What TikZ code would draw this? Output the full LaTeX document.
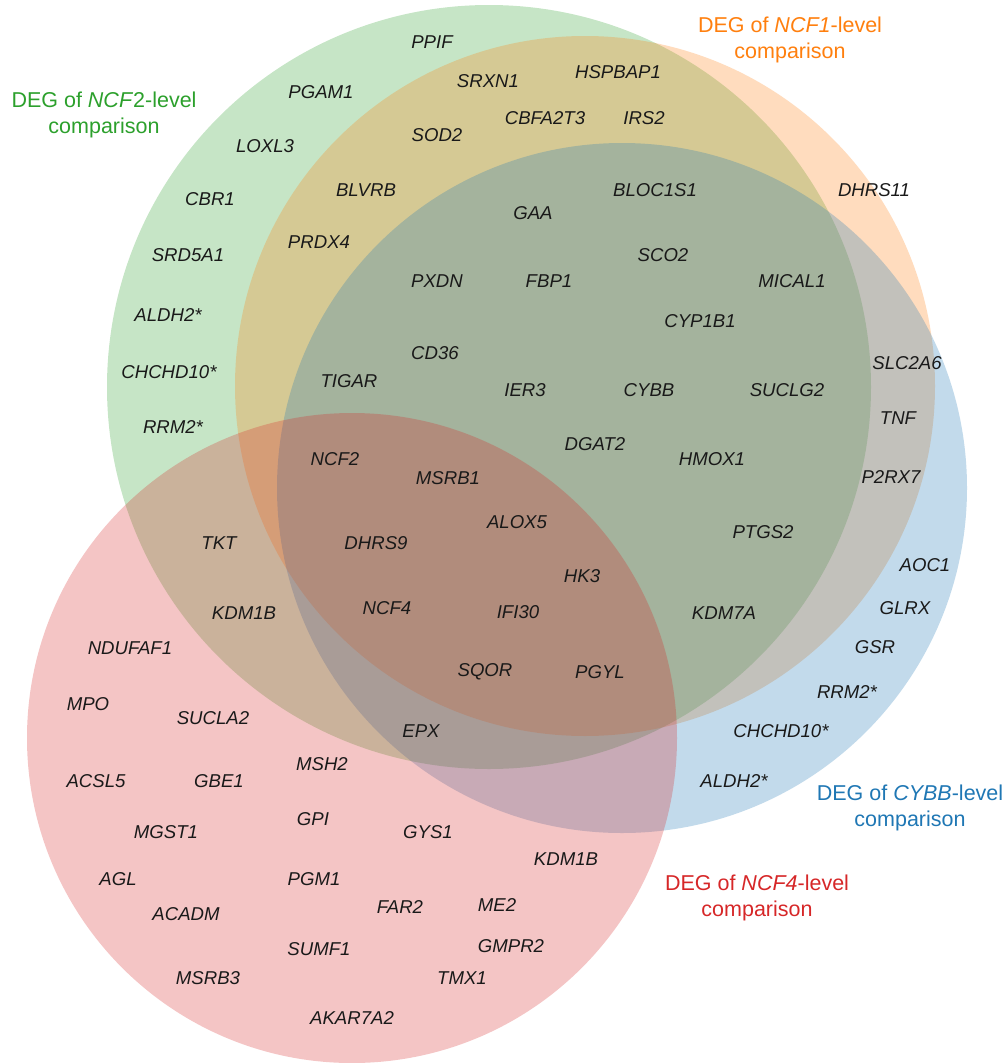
\documentclass[tikz,border=0pt]{standalone}
\usepackage{fontspec}
\setmainfont{Liberation Sans}
\definecolor{cgreen}{HTML}{2CA02C}
\definecolor{corange}{HTML}{FF7F0E}
\definecolor{cblue}{HTML}{1F77B4}
\definecolor{cred}{HTML}{D62728}
\definecolor{genetext}{RGB}{25,25,25}
\tikzset{
  gene/.style={font=\fontsize{18.6}{22}\selectfont\itshape, text=genetext, inner sep=0pt},
  setlabel/.style={font=\fontsize{21.5}{26}\selectfont, align=center, inner sep=0pt},
  vennset/.style={fill opacity=0.27}
}
\begin{document}
\begin{tikzpicture}[x=1pt,y=-1pt]
\useasboundingbox (0,0) rectangle (1006,1063);
% circles
\fill[cgreen, vennset] (489,387) circle[radius=382pt];
\fill[corange, vennset] (585,386) circle[radius=350pt];
\fill[cblue, vennset] (622,488) circle[radius=345pt];
\fill[cred, vennset] (352,738) circle[radius=325pt];
% set labels
\node[setlabel, text=cgreen] (lab-ncf2) at (104,115) {DEG of \textit{NCF}2-level\\comparison};
\node[setlabel, text=corange] (lab-ncf1) at (790,40) {DEG of \textit{NCF1}-level\\comparison};
\node[setlabel, text=cblue] (lab-cybb) at (910,808) {DEG of \textit{CYBB}-level\\comparison};
\node[setlabel, text=cred] (lab-ncf4) at (757,898) {DEG of \textit{NCF4}-level\\comparison};
% genes
\node[gene] (g-ppif) at (432,42) {PPIF};
\node[gene] (g-srxn1) at (488,81) {SRXN1};
\node[gene] (g-hspbap1) at (618,72) {HSPBAP1};
\node[gene] (g-pgam1) at (321,92) {PGAM1};
\node[gene] (g-cbfa2t3) at (545,118) {CBFA2T3};
\node[gene] (g-irs2) at (644,118) {IRS2};
\node[gene] (g-sod2) at (437,135) {SOD2};
\node[gene] (g-loxl3) at (265,146) {LOXL3};
\node[gene] (g-blvrb) at (366,190) {BLVRB};
\node[gene] (g-bloc1s1) at (655,190) {BLOC1S1};
\node[gene] (g-dhrs11) at (874,190) {DHRS11};
\node[gene] (g-cbr1) at (210,199) {CBR1};
\node[gene] (g-gaa) at (533,213) {GAA};
\node[gene] (g-prdx4) at (319,242) {PRDX4};
\node[gene] (g-srd5a1) at (188,255) {SRD5A1};
\node[gene] (g-sco2) at (663,255) {SCO2};
\node[gene] (g-pxdn) at (437,281) {PXDN};
\node[gene] (g-fbp1) at (549,281) {FBP1};
\node[gene] (g-mical1) at (792,281) {MICAL1};
\node[gene] (g-aldh2-a) at (168,315) {ALDH2*};
\node[gene] (g-cyp1b1) at (700,321) {CYP1B1};
\node[gene] (g-cd36) at (435,353) {CD36};
\node[gene] (g-slc2a6) at (907,363) {SLC2A6};
\node[gene] (g-chchd10-a) at (169,372) {CHCHD10*};
\node[gene] (g-tigar) at (349,381) {TIGAR};
\node[gene] (g-ier3) at (525,390) {IER3};
\node[gene] (g-cybb) at (649,390) {CYBB};
\node[gene] (g-suclg2) at (787,390) {SUCLG2};
\node[gene] (g-tnf) at (898,418) {TNF};
\node[gene] (g-rrm2-a) at (173,427) {RRM2*};
\node[gene] (g-dgat2) at (595,444) {DGAT2};
\node[gene] (g-ncf2) at (335,459) {NCF2};
\node[gene] (g-hmox1) at (712,459) {HMOX1};
\node[gene] (g-p2rx7) at (891,477) {P2RX7};
\node[gene] (g-msrb1) at (448,478) {MSRB1};
\node[gene] (g-alox5) at (517,522) {ALOX5};
\node[gene] (g-ptgs2) at (763,532) {PTGS2};
\node[gene] (g-tkt) at (219,543) {TKT};
\node[gene] (g-dhrs9) at (376,543) {DHRS9};
\node[gene] (g-aoc1) at (925,565) {AOC1};
\node[gene] (g-hk3) at (582,576) {HK3};
\node[gene] (g-kdm1b-a) at (244,613) {KDM1B};
\node[gene] (g-ncf4) at (387,608) {NCF4};
\node[gene] (g-ifi30) at (518,612) {IFI30};
\node[gene] (g-kdm7a) at (724,613) {KDM7A};
\node[gene] (g-glrx) at (905,608) {GLRX};
\node[gene] (g-ndufaf1) at (130,648) {NDUFAF1};
\node[gene] (g-gsr) at (875,647) {GSR};
\node[gene] (g-sqor) at (485,672) {SQOR};
\node[gene] (g-pgyl) at (600,672) {PGYL};
\node[gene] (g-rrm2-b) at (847,692) {RRM2*};
\node[gene] (g-mpo) at (88,704) {MPO};
\node[gene] (g-sucla2) at (213,718) {SUCLA2};
\node[gene] (g-epx) at (421,731) {EPX};
\node[gene] (g-chchd10-b) at (781,731) {CHCHD10*};
\node[gene] (g-msh2) at (322,764) {MSH2};
\node[gene] (g-acsl5) at (96,781) {ACSL5};
\node[gene] (g-gbe1) at (219,781) {GBE1};
\node[gene] (g-aldh2-b) at (734,781) {ALDH2*};
\node[gene] (g-gpi) at (313,819) {GPI};
\node[gene] (g-mgst1) at (166,832) {MGST1};
\node[gene] (g-gys1) at (428,832) {GYS1};
\node[gene] (g-kdm1b-b) at (566,859) {KDM1B};
\node[gene] (g-agl) at (118,879) {AGL};
\node[gene] (g-pgm1) at (314,879) {PGM1};
\node[gene] (g-far2) at (400,907) {FAR2};
\node[gene] (g-me2) at (497,905) {ME2};
\node[gene] (g-acadm) at (186,914) {ACADM};
\node[gene] (g-gmpr2) at (511,946) {GMPR2};
\node[gene] (g-sumf1) at (319,949) {SUMF1};
\node[gene] (g-msrb3) at (208,978) {MSRB3};
\node[gene] (g-tmx1) at (462,978) {TMX1};
\node[gene] (g-akar7a2) at (352,1018) {AKAR7A2};
\end{tikzpicture}
\end{document}
